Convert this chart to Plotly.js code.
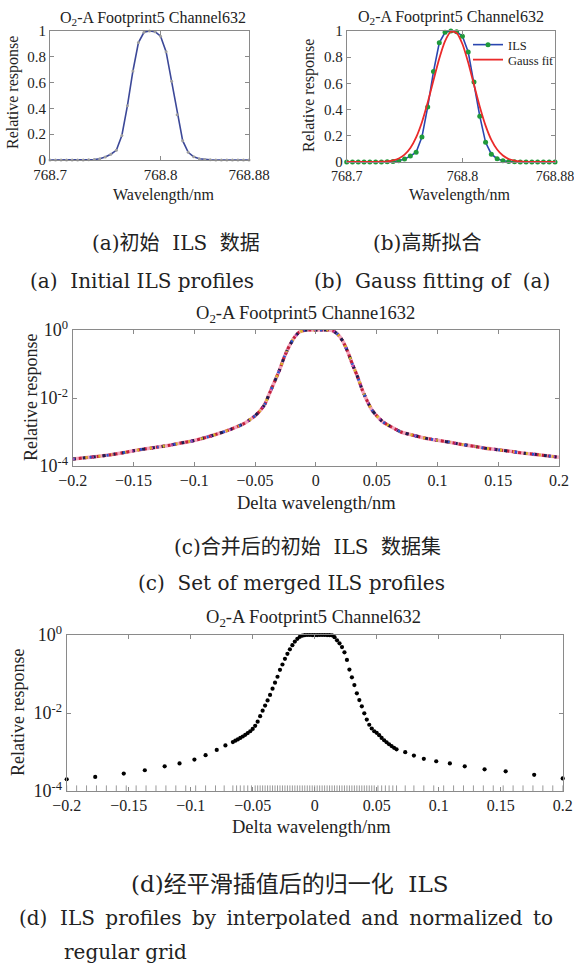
<!DOCTYPE html>
<html>
<head>
<meta charset="utf-8">
<script src="https://cdn.plot.ly/plotly-3.0.1.min.js"></script>
<style>html,body{margin:0;padding:0;background:#fff}#chart{width:574px;height:967px}</style>
</head>
<body>
<div id="chart"></div>
<script>
// ---------- data ----------
const wavelength = [768.700,768.705,768.710,768.715,768.720,768.725,768.730,768.735,768.740,768.745,
  768.750,768.755,768.760,768.765,768.770,768.775,768.780,768.785,768.790,768.795,
  768.800,768.805,768.810,768.815,768.820,768.825,768.830,768.835,768.840,768.845,
  768.850,768.855,768.860,768.865,768.870,768.875,768.880];
const ilsResponse = [0,0,0,0,0,0,0,0.001,0.003,0.010,
  0.023,0.045,0.075,0.19,0.42,0.69,0.91,0.99,1.0,0.995,
  0.96,0.84,0.61,0.35,0.15,0.06,0.025,0.010,0.004,0.001,
  0,0,0,0,0,0,0];
const gaussFit = [0,0,0,0.0001,0.0002,0.0007,0.0019,0.005,0.0121,0.027,
  0.056,0.107,0.188,0.304,0.454,0.624,0.790,0.923,0.994,0.985,
  0.901,0.759,0.589,0.422,0.278,0.169,0.095,0.049,0.023,0.0102,
  0.0041,0.0015,0.0005,0.0002,0.0001,0,0];

const deltaC = [-0.200,-0.190,-0.180,-0.170,-0.160,-0.150,-0.140,-0.130,-0.120,-0.110,-0.100,-0.090,-0.080,-0.070,-0.060,
  -0.055,-0.050,-0.046,-0.042,-0.038,-0.034,-0.030,-0.026,-0.022,-0.018,-0.014,-0.010,-0.006,-0.002,
  0.002,0.006,0.010,0.014,0.018,0.022,0.026,0.030,0.034,0.038,0.042,0.046,0.050,0.055,0.060,
  0.070,0.080,0.090,0.100,0.110,0.120,0.130,0.140,0.150,0.160,0.170,0.180,0.190,0.200];
const mergedResp = [1.6e-4,1.75e-4,1.9e-4,2.1e-4,2.4e-4,2.8e-4,3.2e-4,3.6e-4,4.1e-4,4.8e-4,5.6e-4,7.0e-4,9.0e-4,1.2e-3,1.7e-3,
  2.2e-3,3.0e-3,4.2e-3,6.5e-3,1.4e-2,3.0e-2,6.5e-2,0.16,0.33,0.58,0.85,0.97,1.0,1.0,
  1.0,1.0,1.0,0.95,0.75,0.48,0.24,0.10,0.045,0.018,0.0085,0.0045,0.0030,0.0020,0.00155,
  0.0010,8.0e-4,6.6e-4,5.7e-4,5.0e-4,4.3e-4,3.8e-4,3.3e-4,3.0e-4,2.7e-4,2.4e-4,2.2e-4,2.0e-4,1.8e-4];

const deltaD = [-0.200,-0.177,-0.154,-0.137,-0.121,-0.109,-0.097,-0.088,-0.079,-0.072,
  -0.066,-0.064,-0.062,-0.060,-0.058,-0.056,-0.054,-0.052,-0.050,-0.048,-0.046,-0.044,-0.042,-0.040,-0.038,-0.036,
  -0.034,-0.032,-0.030,-0.028,-0.026,-0.024,-0.022,-0.020,-0.018,-0.016,-0.014,-0.012,-0.010,-0.008,-0.006,-0.004,-0.002,
  0.000,0.002,0.004,0.006,0.008,0.010,0.012,0.014,0.016,0.018,0.020,0.022,0.024,0.026,0.028,0.030,0.032,
  0.034,0.036,0.038,0.040,0.042,0.044,0.046,0.048,0.050,0.052,0.054,0.056,0.058,0.060,0.062,0.064,0.066,
  0.073,0.080,0.088,0.098,0.109,0.121,0.137,0.154,0.177,0.200];
const normResp = [2.0e-4,2.3e-4,2.8e-4,3.4e-4,4.3e-4,5.1e-4,6.4e-4,8.3e-4,1.13e-3,1.47e-3,
  0.00180,0.00195,0.00210,0.00230,0.00250,0.00275,0.00305,0.00340,0.00390,0.00470,0.0060,0.0083,0.0115,0.0155,0.0210,0.0290,
  0.0420,0.0600,0.0850,0.128,0.175,0.245,0.330,0.430,0.550,0.680,0.800,0.900,0.960,0.990,1.000,1.000,0.995,
  0.990,0.995,1.000,1.000,1.000,0.995,0.990,0.980,0.880,0.730,0.610,0.490,0.360,0.230,0.130,0.082,0.052,
  0.032,0.0215,0.0148,0.0098,0.0068,0.0050,0.0040,0.0034,0.0031,0.0027,0.0023,0.0020,0.00178,0.00158,0.00142,0.00128,0.00117,
  9.9e-4,8.1e-4,6.7e-4,5.8e-4,5.1e-4,4.3e-4,3.6e-4,3.2e-4,2.6e-4,2.1e-4];

const gridMarks = [-0.200,-0.192,-0.184,-0.176,-0.168,-0.160,-0.152,-0.144,-0.136,-0.128,-0.120,-0.112,-0.104,-0.096,-0.088,-0.080,-0.073,
  -0.066,-0.063,-0.060,-0.057,-0.054,-0.051,-0.048,
  -0.046,-0.044,-0.042,-0.040,-0.038,-0.036,-0.034,-0.032,-0.030,-0.028,-0.026,-0.024,-0.022,-0.020,-0.018,-0.016,-0.014,-0.012,
  -0.010,-0.008,-0.006,-0.004,-0.002,0.000,0.002,0.004,0.006,0.008,0.010,0.012,0.014,0.016,0.018,0.020,0.022,0.024,0.026,0.028,
  0.030,0.032,0.034,0.036,0.038,0.040,0.042,0.044,0.046,
  0.048,0.051,0.054,0.057,0.060,0.063,0.066,
  0.073,0.080,0.088,0.096,0.104,0.112,0.120,0.128,0.136,0.144,0.152,0.160,0.168,0.176,0.184,0.192,0.200];

const wlTicks = [768.7, 768.8, 768.88];
const wlTickText = ['768.7', '768.8', '768.88'];
const respTicks = [0, 0.2, 0.4, 0.6, 0.8, 1];
const respTickText = ['0', '0.2', '0.4', '0.6', '0.8', '1'];
const deltaTicks = [-0.2, -0.15, -0.1, -0.05, 0, 0.05, 0.1, 0.15, 0.2];
const deltaTickText = ['\u22120.2', '\u22120.15', '\u22120.1', '\u22120.05', '0', '0.05', '0.1', '0.15', '0.2'];
const logTicks = [1e-4, 1e-2, 1];
const logTickText = ['10<sup>-4</sup>', '10<sup>-2</sup>', '10<sup>0</sup>'];

const legendNames = ['ILS', 'Gauss fit'];

// ---------- layout helpers ----------
const W = 574, H = 967;
const serif = 'Liberation Serif, Times New Roman, serif';
const capLatin = 'DejaVu Serif, serif';
const capCJK = 'DejaVu Serif, Noto Sans CJK SC, serif';
const txt = '#222';
const frame = '#8a8a8a';
function xdom(l, r) { return [l / W, r / W]; }
function ydom(t, b) { return [1 - b / H, 1 - t / H]; }
function axis(domain, anchor, extra) {
  return Object.assign({
    domain: domain, anchor: anchor, showline: true, mirror: 'ticks', linecolor: frame, linewidth: 1,
    ticks: 'inside', ticklen: 4, tickcolor: frame, tickwidth: 1, showgrid: false, zeroline: false,
    tickfont: { family: serif, size: 15, color: txt }, fixedrange: true, ticklabeloverflow: 'allow'
  }, extra);
}
function ann(text, px, py, size, family, extra) {
  return Object.assign({
    text: text, x: px / W, y: 1 - py / H, xref: 'paper', yref: 'paper', showarrow: false,
    xanchor: 'center', yanchor: 'middle', font: { family: family || serif, size: size || 15, color: txt }
  }, extra || {});
}
function legendBox(px, py) {
  return { x: px / W, y: 1 - py / H, xanchor: 'left', yanchor: 'middle', bgcolor: 'rgba(0,0,0,0)',
    font: { family: serif, size: 12.5, color: txt }, tracegroupgap: 0, itemwidth: 30, borderwidth: 0 };
}

// ---------- traces ----------
const traces = [];
// (a)
traces.push({ x: wavelength, y: ilsResponse, xaxis: 'x', yaxis: 'y', type: 'scatter', mode: 'lines+markers',
  line: { color: '#3c4898', width: 1.6 }, marker: { color: '#a0a0a0', size: 3 }, showlegend: false, cliponaxis: false });
// (b)
traces.push({ x: wavelength, y: ilsResponse, xaxis: 'x2', yaxis: 'y2', type: 'scatter', mode: 'lines+markers',
  name: legendNames[0], legend: 'legend', line: { color: '#2a46b0', width: 1.6 }, marker: { color: '#1f9a3a', size: 5 }, cliponaxis: false });
traces.push({ x: wavelength, y: gaussFit, xaxis: 'x2', yaxis: 'y2', type: 'scatter', mode: 'lines',
  name: legendNames[1], legend: 'legend2', line: { color: '#ea2a2a', width: 1.8, shape: 'spline', smoothing: 0.6 }, cliponaxis: false });
// (c) several overlapping dashed profiles
const cStyles = [
  { color: '#f2a6bd', width: 3.6, dash: 'solid' },
  { color: '#c2203c', width: 3.0, dash: '3px,3px' },
  { color: '#1e1e50', width: 3.0, dash: '3px,7px' },
  { color: '#d9b52a', width: 2.8, dash: '2px,11px' },
  { color: '#2a55d0', width: 2.8, dash: '2px,15px' },
  { color: '#e040c0', width: 2.6, dash: '1px,19px' }
];
cStyles.forEach(function (s) {
  traces.push({ x: deltaC, y: mergedResp, xaxis: 'x3', yaxis: 'y3', type: 'scatter', mode: 'lines',
    line: { color: s.color, width: s.width, dash: s.dash, shape: 'spline', smoothing: 0.5 }, showlegend: false, cliponaxis: false });
});
// (d)
traces.push({ x: gridMarks, y: gridMarks.map(function () { return logTicks[0]; }), xaxis: 'x4', yaxis: 'y4', type: 'scatter',
  mode: 'markers', marker: { symbol: 'line-ns', size: 8, line: { color: '#9a9a9a', width: 1 } }, showlegend: false, cliponaxis: true });
traces.push({ x: deltaD, y: normResp, xaxis: 'x4', yaxis: 'y4', type: 'scatter', mode: 'markers',
  marker: { color: '#000', size: 4.2 }, showlegend: false, cliponaxis: false });

// ---------- layout ----------
const bigTick = { family: serif, size: 16, color: txt };
const logTick = { family: serif, size: 18, color: txt };
const smallTick = { family: serif, size: 14, color: txt };
const layout = {
  width: W, height: H, margin: { l: 0, r: 0, t: 0, b: 0 }, paper_bgcolor: '#fff', plot_bgcolor: '#fff',
  showlegend: true,
  legend: legendBox(468, 45),
  legend2: legendBox(468, 60),
  xaxis: axis(xdom(50, 249), 'y', { range: [768.7, 768.88], tickvals: wlTicks, ticktext: wlTickText, ticklabelstandoff: 1 }),
  yaxis: axis(ydom(31, 160), 'x', { range: [0, 1], tickvals: respTicks, ticktext: respTickText }),
  xaxis2: axis(xdom(346.7, 555), 'y2', { range: [768.7, 768.88], tickvals: wlTicks, ticktext: wlTickText, ticklabelstandoff: 1, tickfont: smallTick }),
  yaxis2: axis(ydom(31, 162), 'x2', { range: [0, 1], tickvals: respTicks, ticktext: respTickText }),
  xaxis3: axis(xdom(72.7, 559), 'y3', { range: [-0.2, 0.2], tickvals: deltaTicks, ticktext: deltaTickText, tickfont: bigTick }),
  yaxis3: axis(ydom(330, 466), 'x3', { type: 'log', range: [-4, 0], tickvals: logTicks, ticktext: logTickText, tickfont: logTick }),
  xaxis4: axis(xdom(66.7, 562.7), 'y4', { range: [-0.2, 0.2], tickvals: deltaTicks, ticktext: deltaTickText, tickfont: bigTick }),
  yaxis4: axis(ydom(635, 791), 'x4', { type: 'log', range: [-4, 0], tickvals: logTicks, ticktext: logTickText, tickfont: logTick }),
  annotations: [
    ann('O<sub>2</sub>-A Footprint5 Channel632', 153, 18, 16),
    ann('O<sub>2</sub>-A Footprint5 Channel632', 451, 17, 16),
    ann('O<sub>2</sub>-A Footprint5 Channe1632', 305, 314, 18.5),
    ann('O<sub>2</sub>-A Footprint5 Channel632', 313, 618, 18.5),
    ann('Wavelength/nm', 163, 195, 16),
    ann('Wavelength/nm', 459, 195, 16),
    ann('Relative response', 13, 93, 16, serif, { textangle: -90 }),
    ann('Relative response', 309, 96, 16, serif, { textangle: -90 }),
    ann('Delta wavelength/nm', 316, 503, 18.5),
    ann('Relative response', 31, 398, 18, serif, { textangle: -90 }),
    ann('Delta wavelength/nm', 311, 827, 18.5),
    ann('Relative response', 18, 713, 18, serif, { textangle: -90 }),
    ann('(a)初始\u00A0 ILS\u00A0 数据', 176, 243, 20, capCJK),
    ann('(b)高斯拟合', 427, 243, 20, capCJK),
    ann('(a)\u00A0 Initial ILS profiles', 142, 281, 20, capLatin),
    ann('(b)\u00A0 Gauss fitting of\u00A0 (a)', 432, 281, 20, capLatin),
    ann('(c)合并后的初始\u00A0 ILS\u00A0 数据集', 307, 547, 20, capCJK),
    ann('(c)\u00A0 Set of merged ILS profiles', 291, 583, 20, capLatin),
    ann('(d)经平滑插值后的归一化\u00A0 ILS', 289, 884, 23, capCJK),
    ann('(d)\u00A0 ILS \u2009profiles \u2009by \u2009interpolated \u2009and \u2009normalized \u2009to', 17, 918, 20, capLatin, { xanchor: 'left' }),
    ann('regular grid', 62, 952, 20, capLatin, { xanchor: 'left' })
  ]
};

Plotly.newPlot('chart', traces, layout, { staticPlot: true, displayModeBar: false });
</script>
</body>
</html>
